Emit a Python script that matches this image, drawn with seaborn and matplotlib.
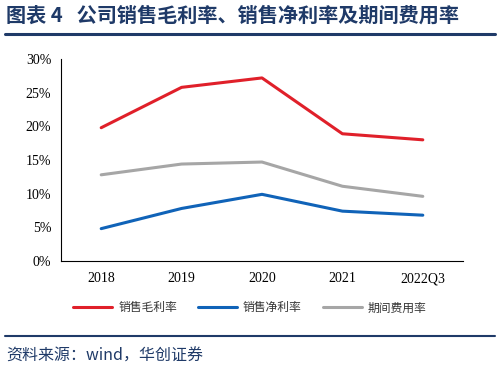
import numpy as np
import matplotlib
matplotlib.use("Agg")
import matplotlib.pyplot as plt
import pandas as pd
import seaborn as sns
from matplotlib.ticker import FixedLocator, PercentFormatter


years = ["2018", "2019", "2020", "2021", "2022Q3"]
gross_margin = [19.8, 25.8, 27.2, 18.9, 18.0]
net_margin = [4.8, 7.8, 9.9, 7.4, 6.8]
expense_ratio = [12.8, 14.4, 14.7, 11.1, 9.6]
series_names = ["销售毛利率", "销售净利率", "期间费用率"]
colors = ["#E0202A", "#1063B8", "#A6A6A6"]

df = pd.DataFrame({
    "year": years * 3,
    "value": gross_margin + net_margin + expense_ratio,
    "series": [series_names[0]] * 5 + [series_names[1]] * 5 + [series_names[2]] * 5,
})

sns.set_style("white")
plt.rcParams["font.family"] = ["Noto Sans CJK SC", "DejaVu Sans"]

fig = plt.figure(figsize=(5, 3.67), dpi=100)
ax = fig.add_axes([0.122, 0.289, 0.804, 0.550])

sns.lineplot(data=df, x="year", y="value", hue="series", palette=colors,
             linewidth=2.2, ax=ax, legend=True)

ax.set_xlim(-0.5, 4.5)
ax.set_ylim(0, 30)
ax.set_yticks(np.arange(0, 31, 5))
ax.yaxis.set_major_formatter(PercentFormatter(decimals=0))
ax.set_xlabel("")
ax.set_ylabel("")

ax.xaxis.set_minor_locator(FixedLocator(np.arange(-0.5, 4.6, 1)))
ax.tick_params(axis="x", which="major", length=0, pad=8)
ax.tick_params(axis="x", which="minor", length=4, width=0.8, color="black", direction="out")
ax.tick_params(axis="y", length=4, width=0.8, color="black", direction="out", pad=3)
for lab in ax.get_xticklabels() + ax.get_yticklabels():
    lab.set_fontfamily("Liberation Serif")
    lab.set_fontsize(10)
    lab.set_color("black")

for side in ["top", "right"]:
    ax.spines[side].set_visible(False)
for side in ["left", "bottom"]:
    ax.spines[side].set_color("black")
    ax.spines[side].set_linewidth(0.8)

handles, labels = ax.get_legend_handles_labels()
ax.legend_.remove()
leg = fig.legend(handles, labels, loc="center", bbox_to_anchor=(0.5, 0.161), ncol=3,
                 frameon=False, fontsize=8.5, handlelength=3.3, columnspacing=1.8,
                 handletextpad=0.5)
for t in leg.get_texts():
    t.set_color("#333333")

# title, rules and source
navy = "#1F3A68"
fig.text(0.012, 0.960, "图表 4   公司销售毛利率、销售净利率及期间费用率",
         fontsize=14.5, fontweight="bold", color=navy, va="center", ha="left")
fig.add_artist(plt.Line2D([0.01, 0.99], [0.906, 0.906], color=navy, linewidth=2.2))
fig.add_artist(plt.Line2D([0.01, 0.99], [0.085, 0.085], color=navy, linewidth=1.5))
fig.text(0.012, 0.030, "资料来源：wind，华创证券", fontsize=11.5, color=navy,
         fontstyle="italic", va="center", ha="left")

plt.savefig("out.png", dpi=100)
